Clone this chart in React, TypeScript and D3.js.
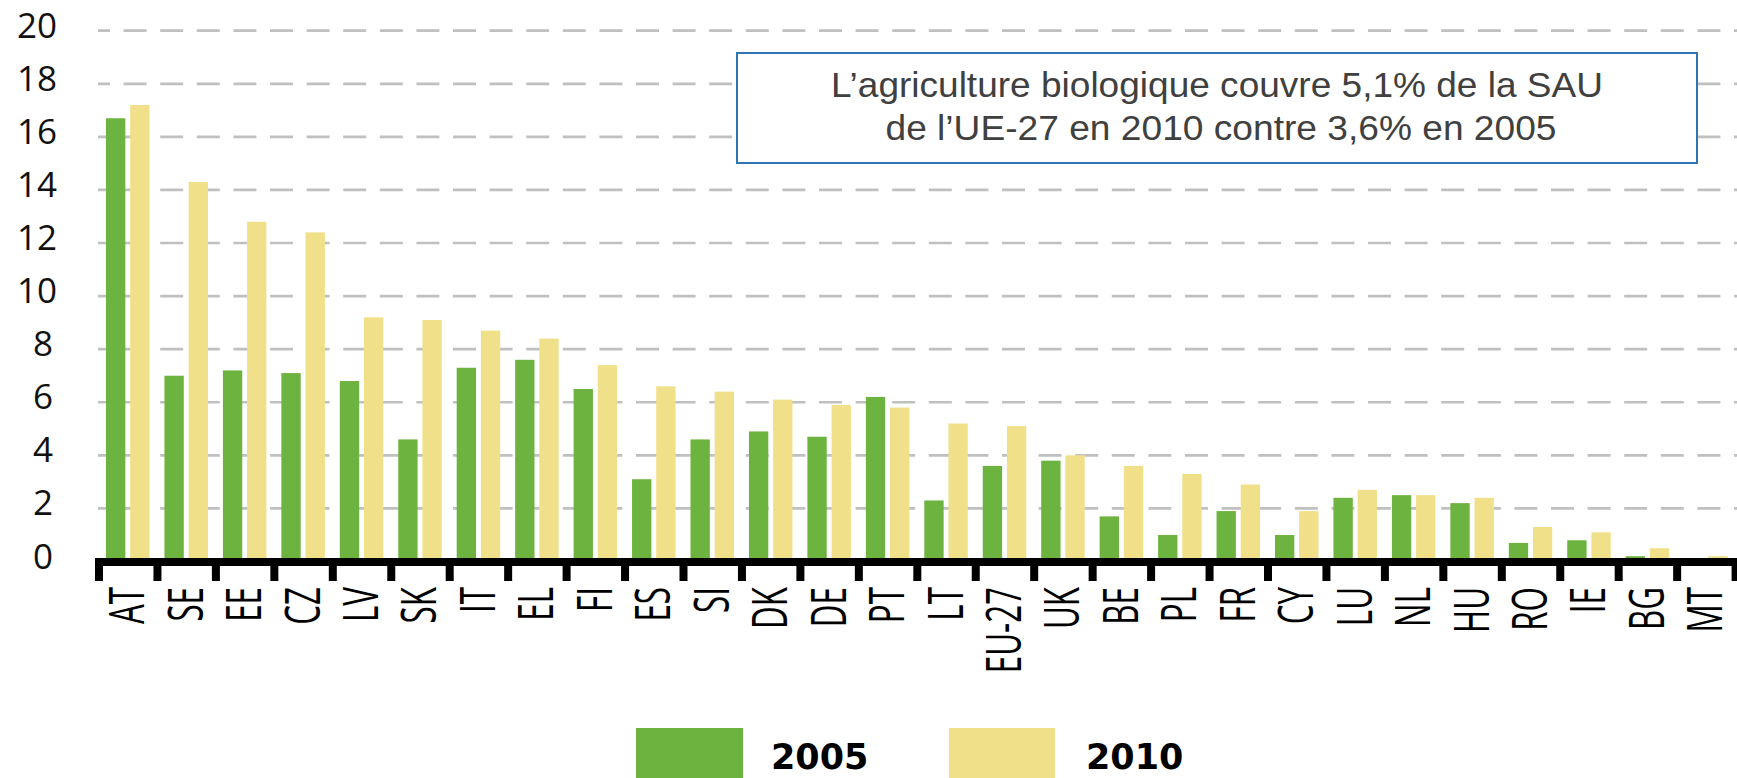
import React from "react";
import * as d3 from "d3";

const categories = ["AT","SE","EE","CZ","LV","SK","IT","EL","FI","ES","SI","DK","DE","PT","LT","EU-27","UK","BE","PL","FR","CY","LU","NL","HU","RO","IE","BG","MT"];
const values2005 = [16.7,7.0,7.2,7.1,6.8,4.6,7.3,7.6,6.5,3.1,4.6,4.9,4.7,6.2,2.3,3.6,3.8,1.7,1.0,1.9,1.0,2.4,2.5,2.2,0.7,0.8,0.2,0.0];
const values2010 = [17.2,14.3,12.8,12.4,9.2,9.1,8.7,8.4,7.4,6.6,6.4,6.1,5.9,5.8,5.2,5.1,4.0,3.6,3.3,2.9,1.9,2.7,2.5,2.4,1.3,1.1,0.5,0.2];
const series = ["2005","2010"];
const yTicks = [0,2,4,6,8,10,12,14,16,18,20];
const noteLines = ["L\u2019agriculture biologique couvre 5,1% de la SAU","de l\u2019UE-27 en 2010 contre 3,6% en 2005"];

const GREEN = "#6db33f";
const YELLOW = "#f1e08a";
const colors: Record<string,string> = { "2005": GREEN, "2010": YELLOW };

export default function App() {
  const W = 1737, H = 778;
  const x0Left = 99, step = 58.45;
  const x0 = d3.scaleBand<string>().domain(categories).range([x0Left, x0Left + step * categories.length]).padding(0);
  const x1 = d3.scaleBand<string>().domain(series).range([7, 50.5]).paddingInner(0.2);
  const y = d3.scaleLinear().domain([0, 20]).range([561.5, 30.7]);
  const data = categories.map((c, i) => ({ c, v: { "2005": values2005[i], "2010": values2010[i] } as Record<string, number> }));

  return (
    <svg width={W} height={H} style={{ position: "absolute", left: 0, top: 0, background: "#fff" }}>
      {yTicks.filter(t => t > 0).map(t => (
        <line key={"g" + t} x1={98} x2={W} y1={y(t)} y2={y(t)} stroke="#c0c0c0" strokeWidth={2.7}
          strokeDasharray="23,13.6" strokeDashoffset={11} />
      ))}
      {yTicks.map(t => (
        <text key={"yl" + t} x={t >= 10 ? 57 : 53} y={y(t) + 7} textAnchor="end"
          fontFamily="'Open Sans', sans-serif" fontSize={35} fill="#111">{t}</text>
      ))}
      {data.map(d => (
        <g key={d.c} transform={`translate(${x0(d.c)},0)`}>
          {series.map(s => (
            <rect key={s} x={x1(s)} width={x1.bandwidth()} y={y(d.v[s])} height={y(0) - y(d.v[s])}
              fill={colors[s]} />
          ))}
        </g>
      ))}
      <rect x={95} y={558} width={W - 95} height={8} fill="#000" />
      {d3.range(categories.length + 1).map(k => (
        <rect key={"t" + k} x={x0Left + k * step - 4} y={558} width={8} height={23} fill="#000" />
      ))}
      {categories.map(c => {
        const cx = (x0(c) as number) + step / 2 + 16;
        return (
          <text key={"cl" + c} transform={`translate(${cx},587) rotate(-90) scale(0.64,1)`} textAnchor="end"
            fontFamily="'Open Sans', sans-serif" fontSize={49} fill="#000">{c}</text>
        );
      })}
      <rect x={737} y={53} width={960} height={110} fill="#fff" stroke="#2e75b6" strokeWidth={2} />
      <text x={1217} y={97} textAnchor="middle" fontFamily="'Liberation Sans', Arial, sans-serif" fontSize={35}
        fill="#404040" textLength={772} lengthAdjust="spacingAndGlyphs">{noteLines[0]}</text>
      <text x={1221} y={140} textAnchor="middle" fontFamily="'Liberation Sans', Arial, sans-serif" fontSize={35}
        fill="#404040" textLength={671} lengthAdjust="spacingAndGlyphs">{noteLines[1]}</text>
      <rect x={636} y={728} width={107} height={50} fill={GREEN} />
      <text x={771} y={769} fontFamily="'DejaVu Sans', sans-serif" fontWeight="bold" fontSize={35} fill="#000">2005</text>
      <rect x={949} y={728} width={106} height={50} fill={YELLOW} />
      <text x={1086} y={769} fontFamily="'DejaVu Sans', sans-serif" fontWeight="bold" fontSize={35} fill="#000">2010</text>
    </svg>
  );
}
